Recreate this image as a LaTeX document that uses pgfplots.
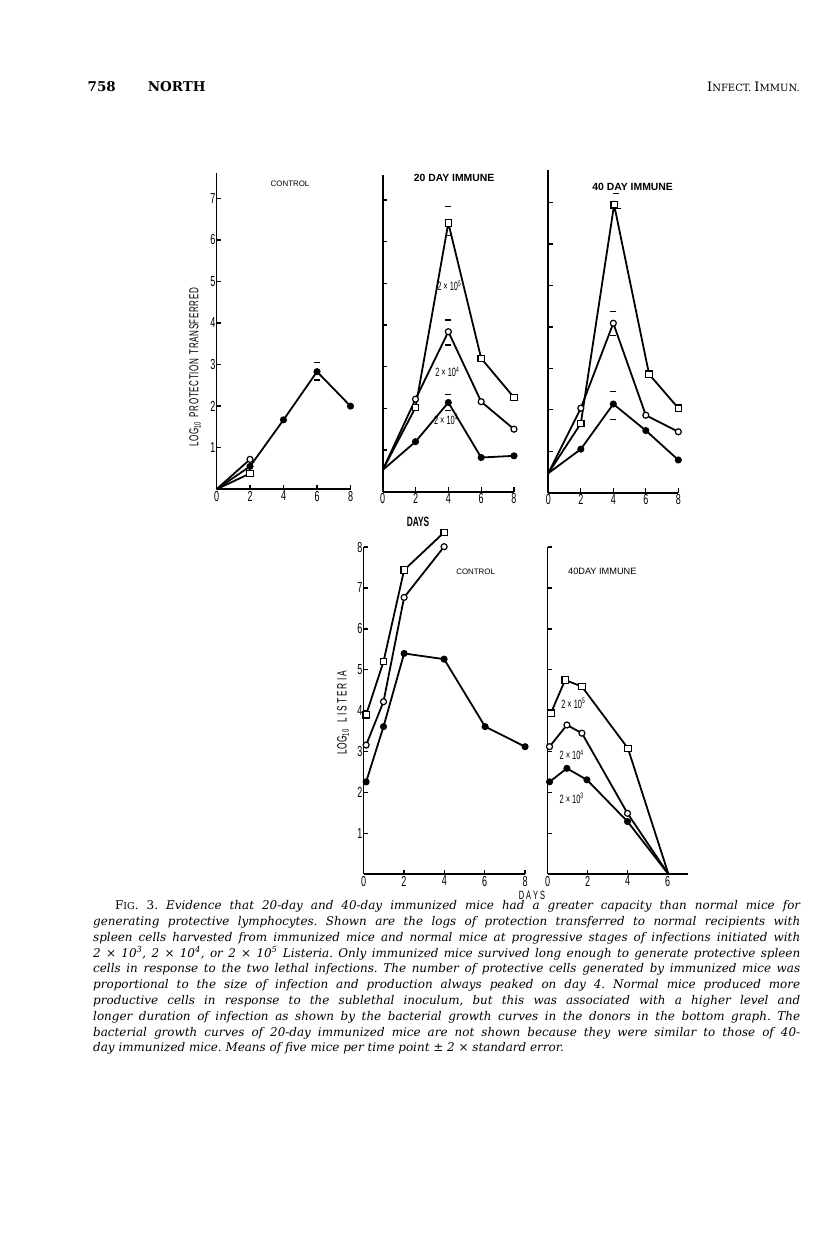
\documentclass[border=0pt]{standalone}
\usepackage{pgfplots}
\pgfplotsset{compat=1.18}
\usepackage{fontspec}
\setmainfont{DejaVu Serif}
\newfontfamily\cond[FakeStretch=0.62]{Liberation Sans}
\newfontfamily\lab{Liberation Sans}
\pgfplotsset{
  panel/.style={
    anchor=origin, clip=false, enlargelimits=false,
    axis x line=bottom, axis y line=left,
    axis line style={line width=1.7pt,-},
    tick style={line width=1.3pt,black}, major tick length=4.5pt,
    tick align=inside,
    /pgf/number format/assume math mode=true,
    tick label style={font=\cond\fontsize{14.5}{14.5}\selectfont},
    yticklabel style={inner sep=1pt},
    xticklabel style={inner sep=1.5pt},
  },
  ln/.style={line width=1.8pt, black},
  sq/.style={ln, mark=square*, mark size=3.2pt, mark options={fill=white, line width=1.2pt, solid}},
  ci/.style={ln, mark=*, mark size=3pt, mark options={fill=white, line width=1.2pt, solid}},
  fi/.style={ln, mark=*, mark size=2.6pt, mark options={fill=black, solid}},
  eb/.style={only marks, mark=-, mark size=3pt, mark options={line width=1.2pt, black}},
}
\tikzset{
  ttl/.style={font=\lab\fontsize{7.9}{7.9}\selectfont},
  ttlb/.style={font=\lab\bfseries\fontsize{10.4}{10.4}\selectfont},
  inl/.style={font=\cond\fontsize{12}{12}\selectfont, inner sep=1pt},
}
\begin{document}
\frenchspacing
\begin{tikzpicture}
\path[use as bounding box] (0pt,0pt) rectangle (816pt,1249pt);

% page header
\node[anchor=base, inner sep=0pt] at (101.7pt,1157pt) {\fontsize{13.5}{13.5}\selectfont\bfseries 758};
\node[anchor=base, inner sep=0pt] at (176.7pt,1157pt) {\fontsize{13.5}{13.5}\selectfont\bfseries NORTH};
\node[anchor=base east, inner sep=0pt] at (800pt,1157pt) {\fontsize{13}{13}\selectfont I\fontsize{10}{10}\selectfont NFECT. \fontsize{13}{13}\selectfont I\fontsize{10}{10}\selectfont MMUN.};

% ---------------- top row: protection transferred ----------------
\begin{axis}[panel, at={(216.5pt,759.7pt)}, x=16.75pt, y=41.57pt,
  xmin=0, xmax=8, ymin=0, ymax=7.6,
  xtick={0,2,4,6,8}, ytick={1,2,3,4,5,6,7}]
\addplot[ln] coordinates {(0,0) (2,0.38)};
\addplot[ln] coordinates {(0,0) (2,0.72)};
\addplot[fi, mark indices={2,3,4,5}] coordinates {(0,0) (2,0.55) (4,1.67) (6,2.83) (8,2.0)};
\addplot[sq, only marks] coordinates {(2,0.38)};
\addplot[ci, only marks] coordinates {(2,0.72)};
\addplot[eb] coordinates {(6,3.05) (6,2.63)};
\node[ttl] at (axis cs:4.39,7.36) {CONTROL};
\end{axis}

\begin{axis}[panel, at={(382.7pt,757.3pt)}, x=16.41pt, y=41.67pt,
  xmin=0, xmax=8, ymin=0, ymax=7.6,
  xtick={0,2,4,6,8}, ytick={1,2,3,4,5,6,7}, yticklabels={}]
\addplot[sq, mark indices={2,3,4,5}] coordinates {(0,0.52) (2,2.02) (4,6.45) (6,3.2) (8,2.26)};
\addplot[ci, mark indices={2,3,4,5}] coordinates {(0,0.52) (2,2.22) (4,3.84) (6,2.16) (8,1.5)};
\addplot[fi, mark indices={2,3,4,5}] coordinates {(0,0.52) (2,1.2) (4,2.14) (6,0.82) (8,0.86)};
\addplot[eb] coordinates {(4,6.84) (4,6.14) (4,4.12) (4,3.52) (4,2.34) (4,1.94)};
\node[ttlb] at (axis cs:4.35,7.52) {20 DAY IMMUNE};
\node[inl] at (axis cs:4.06,4.94) {2\,×\,10\textsuperscript{5}};
\node[inl] at (axis cs:3.94,2.88) {2\,×\,10\textsuperscript{4}};
\node[inl] at (axis cs:3.86,1.74) {2\,×\,10\textsuperscript{3}};
\end{axis}

\begin{axis}[panel, at={(548.3pt,756.3pt)}, x=16.25pt, y=41.43pt,
  xmin=0, xmax=8, ymin=0, ymax=7.8,
  xtick={0,2,4,6,8}, ytick={1,2,3,4,5,6,7}, yticklabels={}]
\addplot[sq, mark indices={2,3,4,5}] coordinates {(0,0.47) (2,1.67) (4.05,6.95) (6.2,2.86) (8,2.04)};
\addplot[ci, mark indices={2,3,4,5}] coordinates {(0,0.47) (2,2.04) (4,4.09) (6,1.87) (8,1.47)};
\addplot[fi, mark indices={2,3,4,5}] coordinates {(0,0.47) (2,1.05) (4,2.14) (6,1.5) (8,0.79)};
\addplot[eb] coordinates {(4.15,7.22) (4.3,6.86) (4,4.37) (4,3.8) (4,2.45) (4,1.77)};
\node[ttlb] at (axis cs:5.19,7.37) {40 DAY IMMUNE};
\end{axis}

% top labels
\node[rotate=90, inner sep=0pt] at (195pt,882pt) {\cond\fontsize{13}{13}\selectfont L\kern.4pt O\kern.4pt G\textsubscript{10}\ \ P\kern.6pt R\kern.6pt O\kern.6pt T\kern.6pt E\kern.6pt C\kern.6pt T\kern.6pt I\kern.6pt O\kern.6pt N\ \ T\kern.6pt R\kern.6pt A\kern.6pt N\kern.6pt S\kern.6pt F\kern.6pt E\kern.6pt R\kern.6pt R\kern.6pt E\kern.6pt D};
\node[inner sep=0pt] at (418pt,727pt) {\cond\bfseries\fontsize{13.5}{13.5}\selectfont DAYS};

% ---------------- bottom row: log10 Listeria ----------------
\begin{axis}[panel, at={(363.5pt,374.7pt)}, x=20.2pt, y=40.9pt,
  xmin=0, xmax=8, ymin=0, ymax=8,
  xtick={0,2,4,6,8}, ytick={1,2,3,4,5,6,7,8}]
\addplot[sq] coordinates {(0.13,3.9) (0.99,5.2) (2.01,7.44) (3.99,8.36)};
\addplot[ci] coordinates {(0.13,3.16) (0.99,4.22) (2.01,6.77) (3.99,8.01)};
\addplot[fi] coordinates {(0.13,2.26) (0.99,3.61) (2.01,5.40) (3.99,5.26) (6.02,3.61) (8.0,3.12)};
\node[ttl] at (axis cs:5.55,7.40) {CONTROL};
\end{axis}

\begin{axis}[panel, at={(547.5pt,374.7pt)}, x=20pt, y=40.9pt,
  xmin=0, xmax=7, ymin=0, ymax=8,
  xtick={0,2,4,6}, ytick={1,2,3,4,5,6,7,8}, yticklabels={}]
\addplot[sq, mark indices={1,2,3,4}] coordinates {(0.17,3.94) (0.88,4.75) (1.72,4.59) (4.02,3.08) (6.05,0)};
\addplot[ci, mark indices={1,2,3,4}] coordinates {(0.1,3.12) (0.97,3.65) (1.72,3.45) (4,1.49) (6.05,0)};
\addplot[fi, mark indices={1,2,3,4}] coordinates {(0.1,2.26) (0.97,2.59) (1.97,2.31) (4,1.29) (6.05,0)};
\node[ttl, font=\lab\fontsize{9.2}{9.2}\selectfont] at (axis cs:2.74,7.40) {40DAY IMMUNE};
\node[inl] at (axis cs:1.29,4.18) {2\,×\,10\textsuperscript{5}};
\node[inl] at (axis cs:1.21,2.92) {2\,×\,10\textsuperscript{4}};
\node[inl] at (axis cs:1.21,1.86) {2\,×\,10\textsuperscript{3}};
\end{axis}

\node[rotate=90, inner sep=0pt] at (343pt,536pt) {\cond\fontsize{13.5}{13.5}\selectfont L\kern.5pt O\kern.5pt G\textsubscript{10}\ \ \ L\kern2pt I\kern2pt S\kern2pt T\kern2pt E\kern2pt R\kern2pt I\kern2pt A};
\node[inner sep=0pt] at (532pt,354pt) {\cond\fontsize{12}{12}\selectfont D\kern2pt A\kern2pt Y\kern2pt S};

% ---------------- caption ----------------
\node[anchor=north west, text width=707pt, align=justify, inner sep=0pt,
  font=\fontsize{11.95}{15.78}\selectfont\itshape\frenchspacing] at (93pt,348.5pt) {%
\hspace*{22pt}{\upshape F{\fontsize{9.5}{15.78}\selectfont IG}. 3.} Evidence that 20-day and 40-day immunized mice had a greater capacity than normal mice for\linebreak
generating protective lymphocytes. Shown are the logs of protection transferred to normal recipients with\linebreak
spleen cells harvested from immunized mice and normal mice at progressive stages of infections initiated with\linebreak
2 × 10\textsuperscript{3}, 2 × 10\textsuperscript{4}, or 2 × 10\textsuperscript{5} Listeria. Only immunized mice survived long enough to generate protective spleen\linebreak
cells in response to the two lethal infections. The number of protective cells generated by immunized mice was\linebreak
proportional to the size of infection and production always peaked on day 4. Normal mice produced more\linebreak
productive cells in response to the sublethal inoculum, but this was associated with a higher level and\linebreak
longer duration of infection as shown by the bacterial growth curves in the donors in the bottom graph. The\linebreak
bacterial growth curves of 20-day immunized mice are not shown because they were similar to those of 40-\linebreak
day immunized mice. Means of five mice per time point ± 2 × standard error.};
\end{tikzpicture}
\end{document}
